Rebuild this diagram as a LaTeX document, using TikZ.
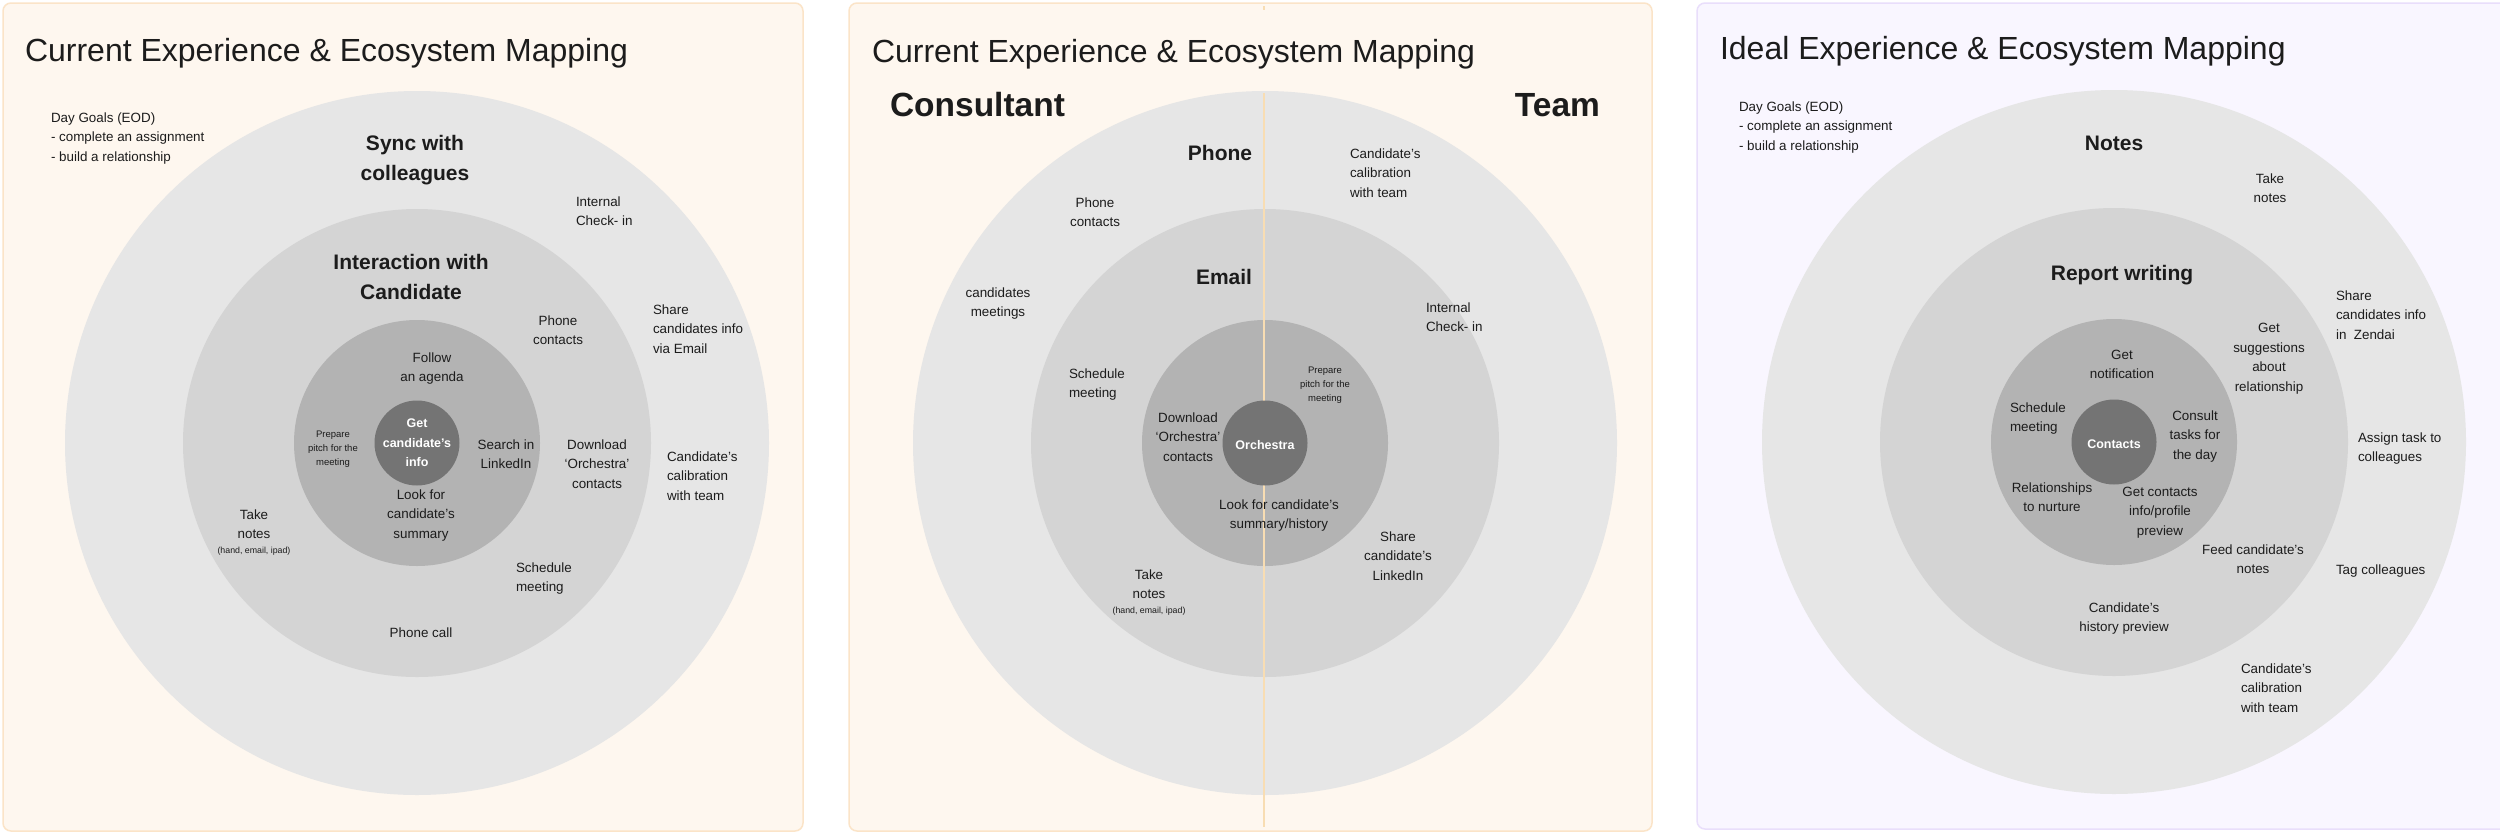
\documentclass[tikz,border=0pt]{standalone}
\usepackage{fontspec}
\setmainfont{Liberation Sans}
\definecolor{ink}{HTML}{1C1C1C}
\definecolor{cream}{HTML}{FEF7EF}
\definecolor{creamline}{HTML}{FBE4C8}
\definecolor{lav}{HTML}{F9F6FF}
\definecolor{lavline}{HTML}{E9DEFB}
\definecolor{ringA}{HTML}{E6E6E6}
\definecolor{ringB}{HTML}{D4D4D4}
\definecolor{ringC}{HTML}{B3B3B3}
\definecolor{ringD}{HTML}{747474}
\definecolor{divcol}{HTML}{F8DDB3}
\tikzset{
  panelcream/.style={draw=creamline, fill=cream, line width=1.5pt, rounded corners=8pt},
  panellav/.style={draw=lavline, fill=lav, line width=1.5pt, rounded corners=8pt},
  base/.style={inner sep=0pt, outer sep=0pt, text=ink},
  lbl/.style={base, yshift=-2pt},
  txt/.style={lbl, font=\fontsize{13.4}{19.5}\selectfont, align=center,
    execute at begin node=\strut, execute at end node=\strut},
  txtl/.style={txt, align=left, anchor=west},
  smalltxt/.style={lbl, font=\fontsize{9.5}{14}\selectfont, align=center,
    execute at begin node=\strut, execute at end node=\strut},
  tinytxt/.style={lbl, font=\fontsize{8.8}{12}\selectfont, align=center},
  hdr/.style={lbl, font=\bfseries\fontsize{21}{30}\selectfont, align=center,
    execute at begin node=\strut, execute at end node=\strut},
  bighdr/.style={base, yshift=-1pt, font=\bfseries\fontsize{33.5}{40}\selectfont},
  coretxt/.style={lbl, text=white, font=\bfseries\fontsize{12.5}{19.5}\selectfont, align=center,
    execute at begin node=\strut, execute at end node=\strut},
  titletxt/.style={base, font=\fontsize{32}{38}\selectfont, anchor=base west},
  divider/.style={draw=divcol, line width=1.8pt},
}
\begin{document}
\begin{tikzpicture}[x=1pt,y=-1pt]
\useasboundingbox (0,0) rectangle (2500,833);
\clip (0,0) rectangle (2500,833);
\fill[white] (0,0) rectangle (2500,833);

% panels
\draw[panelcream] (3,3) rectangle (803,831);
\draw[panelcream] (849,3) rectangle (1652,831);
\draw[panellav] (1697,3) rectangle (2512,829);

% ===== Panel 1 =====
\fill[ringA] (417,443) circle[radius=352];
\fill[ringB] (417,443) circle[radius=234];
\fill[ringC] (417,443) circle[radius=123];
\fill[ringD] (417,443) circle[radius=42.5];

\node[titletxt] (t1) at (25,61) {Current Experience \& Ecosystem Mapping};
\node[txtl] (goals1) at (51,138) {Day Goals (EOD)\\- complete an assignment\\- build a relationship};
\node[hdr] (sync) at (415,160) {Sync with\\colleagues};
\node[txtl] (int1) at (576,212) {Internal\\Check- in};
\node[hdr] (interact) at (411,279) {Interaction with\\Candidate};
\node[txt] (phone1) at (558,331) {Phone\\contacts};
\node[txtl] (share1) at (653,330) {Share\\candidates info\\via Email};
\node[txt] (follow) at (432,368) {Follow\\an agenda};
\node[coretxt] (core1) at (417,444) {Get\\candidate’s\\info};
\node[smalltxt] (prep1) at (333,448) {Prepare\\pitch for the\\meeting};
\node[txt] (search1) at (506,455) {Search in\\LinkedIn};
\node[txt] (down1) at (597,465) {Download\\‘Orchestra’\\contacts};
\node[txtl] (calib1) at (667,477) {Candidate’s\\calibration\\with team};
\node[txt] (look1) at (421,515) {Look for\\candidate’s\\summary};
\node[txt] (take1) at (254,525) {Take\\notes};
\node[tinytxt] (hand1) at (254,549) {(hand, email, ipad)};
\node[txtl] (sched1) at (516,578) {Schedule\\meeting};
\node[txt] (pcall) at (421,632) {Phone call};

% ===== Panel 2 =====
\fill[ringA] (1265,443) circle[radius=352];
\fill[ringB] (1265,443) circle[radius=234];
\fill[ringC] (1265,443) circle[radius=123];
\coordinate (tickA) at (1264,6);
\coordinate (tickB) at (1264,10);
\coordinate (divtop) at (1264,93);
\coordinate (divbot) at (1264,827);
\draw[divider] (tickA) -- (tickB);
\draw[divider] (divtop) -- (divbot);
\fill[ringD] (1265,443) circle[radius=42.5];

\node[titletxt] (t2) at (872,62) {Current Experience \& Ecosystem Mapping};
\node[bighdr, anchor=base west] (consult) at (890,115) {Consultant};
\node[bighdr, anchor=base east] (team) at (1600,115) {Team};
\node[hdr] (phonehdr) at (1220,152) {Phone};
\node[txtl] (calib2) at (1350,174) {Candidate’s\\calibration\\with team};
\node[txt] (phone2) at (1095,213) {Phone\\contacts};
\node[hdr] (email) at (1224,276) {Email};
\node[txt] (meet2) at (998,303) {candidates\\meetings};
\node[txtl] (int2) at (1426,318) {Internal\\Check- in};
\node[txtl] (sched2) at (1069,384) {Schedule\\meeting};
\node[smalltxt] (prep2) at (1325,384) {Prepare\\pitch for the\\meeting};
\node[txt] (down2) at (1188,438) {Download\\‘Orchestra’\\contacts};
\node[coretxt] (core2) at (1265,444) {Orchestra};
\node[txt] (look2) at (1279,515) {Look for candidate’s\\summary/history};
\node[txt] (share2) at (1398,557) {Share\\candidate’s\\LinkedIn};
\node[txt] (take2) at (1149,585) {Take\\notes};
\node[tinytxt] (hand2) at (1149,609) {(hand, email, ipad)};

% ===== Panel 3 =====
\fill[ringA] (2114,442) circle[radius=352];
\fill[ringB] (2114,442) circle[radius=234];
\fill[ringC] (2114,442) circle[radius=123];
\fill[ringD] (2114,442) circle[radius=42.5];

\node[titletxt] (t3) at (1720,59) {Ideal Experience \& Ecosystem Mapping};
\node[txtl] (goals3) at (1739,127) {Day Goals (EOD)\\- complete an assignment\\- build a relationship};
\node[hdr] (noteshdr) at (2114,142) {Notes};
\node[txt] (take3) at (2270,189) {Take\\notes};
\node[hdr] (report) at (2122,272) {Report writing};
\node[txtl] (share3) at (2336,316) {Share\\candidates info\\in\ \ Zendai};
\node[txt] (sugg) at (2269,358) {Get\\suggestions\\about\\relationship};
\node[txt] (notif) at (2122,365) {Get\\notification};
\node[txtl] (sched3) at (2010,418) {Schedule\\meeting};
\node[coretxt] (core3) at (2114,443) {Contacts};
\node[txt] (consult3) at (2195,436) {Consult\\tasks for\\the day};
\node[txtl] (assign) at (2358,448) {Assign task to\\colleagues};
\node[txt] (relat) at (2052,498) {Relationships\\to nurture};
\node[txt] (getc) at (2160,512) {Get contacts\\info/profile\\preview};
\node[txt] (feed) at (2253,560) {Feed candidate’s\\notes};
\node[txtl] (tag) at (2336,569) {Tag colleagues};
\node[txt] (hist) at (2124,618) {Candidate’s\\history preview};
\node[txtl] (calib3) at (2241,689) {Candidate’s\\calibration\\with team};
\end{tikzpicture}
\end{document}
